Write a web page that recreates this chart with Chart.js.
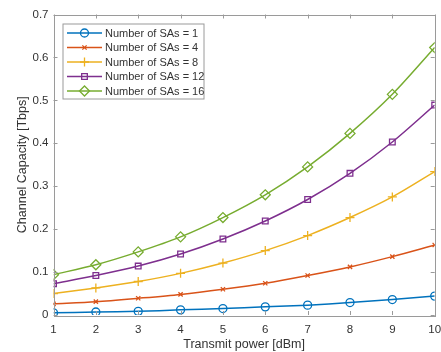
<!DOCTYPE html>
<html>
<head>
<meta charset="utf-8">
<script src="https://cdn.jsdelivr.net/npm/chart.js@4.4.0/dist/chart.umd.min.js"></script>
<style>
  html, body { margin: 0; padding: 0; background: #fff; overflow: hidden; }
  #wrap { width: 441px; height: 352px; }
</style>
</head>
<body>
<div id="wrap"><canvas id="capacityChart"></canvas></div>
<script>
  // Transmit power [dBm]
  const powerLabels = [1, 2, 3, 4, 5, 6, 7, 8, 9, 10];

  // Channel capacity [Tbps] per number of SAs
  const sa1 = [0.005, 0.007, 0.0085, 0.012, 0.015, 0.019, 0.023, 0.029, 0.036, 0.044];
  const sa4 = [0.026, 0.031, 0.039, 0.048, 0.060, 0.074, 0.092, 0.112, 0.136, 0.163];
  const sa8 = [0.050, 0.063, 0.078, 0.097, 0.121, 0.150, 0.185, 0.227, 0.275, 0.334];
  const sa12 = [0.073, 0.092, 0.114, 0.142, 0.177, 0.219, 0.269, 0.330, 0.403, 0.489];
  const sa16 = [0.094, 0.117, 0.147, 0.182, 0.227, 0.280, 0.345, 0.423, 0.514, 0.623];

  const yTicks = [0, 0.1, 0.2, 0.3, 0.4, 0.5, 0.6, 0.7];

  const colors = {
    blue: '#0072BD',
    orange: '#D95319',
    yellow: '#EDB120',
    purple: '#7E2F8E',
    green: '#77AC30'
  };

  const axisColor = '#9a9a9a';
  const textColor = '#333333';
  const fontFamily = '"Liberation Sans", Arial, sans-serif';

  function series(label, data, color, style, radius) {
    return {
      label: label,
      data: data,
      borderColor: color,
      backgroundColor: color,
      pointBorderColor: color,
      pointBackgroundColor: 'rgba(0,0,0,0)',
      pointStyle: style,
      pointRadius: radius,
      pointHoverRadius: radius,
      pointBorderWidth: 1.3,
      borderWidth: 1.5,
      tension: 0.3,
      fill: false
    };
  }

  // Box around the plot area plus inward ticks on all four sides
  const boxPlugin = {
    id: 'matlabBox',
    afterDraw(chart) {
      const { ctx, chartArea: a, scales } = chart;
      ctx.save();
      ctx.strokeStyle = axisColor;
      ctx.lineWidth = 1;
      ctx.strokeRect(Math.round(a.left) + 0.5, Math.round(a.top) + 0.5,
        Math.round(a.right - a.left), Math.round(a.bottom - a.top));
      const len = 4;
      ctx.beginPath();
      scales.x.ticks.forEach((t, i) => {
        const px = Math.round(scales.x.getPixelForTick(i)) + 0.5;
        ctx.moveTo(px, a.bottom); ctx.lineTo(px, a.bottom - len);
        ctx.moveTo(px, a.top); ctx.lineTo(px, a.top + len);
      });
      scales.y.ticks.forEach((t, i) => {
        const py = Math.round(scales.y.getPixelForTick(i)) + 0.5;
        ctx.moveTo(a.left, py); ctx.lineTo(a.left + len, py);
        ctx.moveTo(a.right, py); ctx.lineTo(a.right - len, py);
      });
      ctx.stroke();
      ctx.restore();
    }
  };

  // MATLAB-like legend: line sample with marker in the middle
  const legendPlugin = {
    id: 'matlabLegend',
    afterDraw(chart) {
      const { ctx, chartArea: a } = chart;
      const x0 = a.left + 9.5, y0 = a.top + 9.5;
      const w = 141, rowH = 14.5, h = 75;
      ctx.save();
      ctx.fillStyle = '#fff';
      ctx.fillRect(x0, y0, w, h);
      ctx.strokeStyle = axisColor;
      ctx.lineWidth = 1;
      ctx.strokeRect(x0, y0, w, h);
      ctx.font = '11px ' + fontFamily;
      ctx.textBaseline = 'middle';
      chart.data.datasets.forEach((ds, i) => {
        const cy = y0 + 9 + i * rowH;
        ctx.strokeStyle = ds.borderColor;
        ctx.lineWidth = 1.5;
        ctx.beginPath();
        ctx.moveTo(x0 + 4, cy); ctx.lineTo(x0 + 39, cy);
        ctx.stroke();
        ctx.fillStyle = 'rgba(0,0,0,0)';
        ctx.lineWidth = 1.3;
        Chart.helpers.drawPoint(ctx, {
          pointStyle: ds.pointStyle,
          radius: ds.pointRadius,
          borderWidth: 1.3,
          rotation: 0
        }, x0 + 21.5, cy);
        ctx.fillStyle = textColor;
        ctx.fillText(ds.label, x0 + 42, cy + 0.5);
      });
      ctx.restore();
    }
  };

  const ctx = document.getElementById('capacityChart').getContext('2d');
  new Chart(ctx, {
    type: 'line',
    data: {
      labels: powerLabels,
      datasets: [
        series('Number of SAs = 1', sa1, colors.blue, 'circle', 4),
        series('Number of SAs = 4', sa4, colors.orange, 'crossRot', 3),
        series('Number of SAs = 8', sa8, colors.yellow, 'cross', 4.5),
        series('Number of SAs = 12', sa12, colors.purple, 'rect', 4),
        series('Number of SAs = 16', sa16, colors.green, 'rectRot', 5)
      ]
    },
    options: {
      responsive: true,
      maintainAspectRatio: false,
      animation: false,
      layout: { padding: { top: 14.5, right: 5, left: 0, bottom: 0 } },
      plugins: {
        legend: { display: false },
        tooltip: { enabled: false }
      },
      scales: {
        x: {
          type: 'linear',
          min: 1,
          max: 10,
          grid: { display: false, drawTicks: false },
          border: { display: false },
          ticks: {
            stepSize: 1,
            color: textColor,
            font: { family: fontFamily, size: 11.5 },
            padding: 8,
            maxRotation: 0
          },
          title: {
            display: true,
            text: 'Transmit power [dBm]',
            color: textColor,
            font: { family: fontFamily, size: 12.5 },
            padding: { top: 0, bottom: 0 }
          },
          afterFit(scale) {
            scale.height = 37;
            scale.paddingLeft = 0;
            scale.paddingRight = 0;
          }
        },
        y: {
          min: 0,
          max: 0.7,
          grid: { display: false, drawTicks: false },
          border: { display: false },
          afterBuildTicks(scale) {
            scale.ticks = yTicks.map(v => ({ value: v }));
          },
          ticks: {
            color: textColor,
            font: { family: fontFamily, size: 11.5 },
            padding: 5,
            callback: v => String(Math.round(v * 10) / 10)
          },
          title: {
            display: true,
            text: 'Channel Capacity [Tbps]',
            color: textColor,
            font: { family: fontFamily, size: 12.5 },
            padding: { top: 15, bottom: 0 }
          },
          afterFit(scale) {
            scale.width = 53.5;
            scale.paddingTop = 0;
            scale.paddingBottom = 0;
          }
        }
      }
    },
    plugins: [boxPlugin, legendPlugin]
  });
</script>
</body>
</html>
